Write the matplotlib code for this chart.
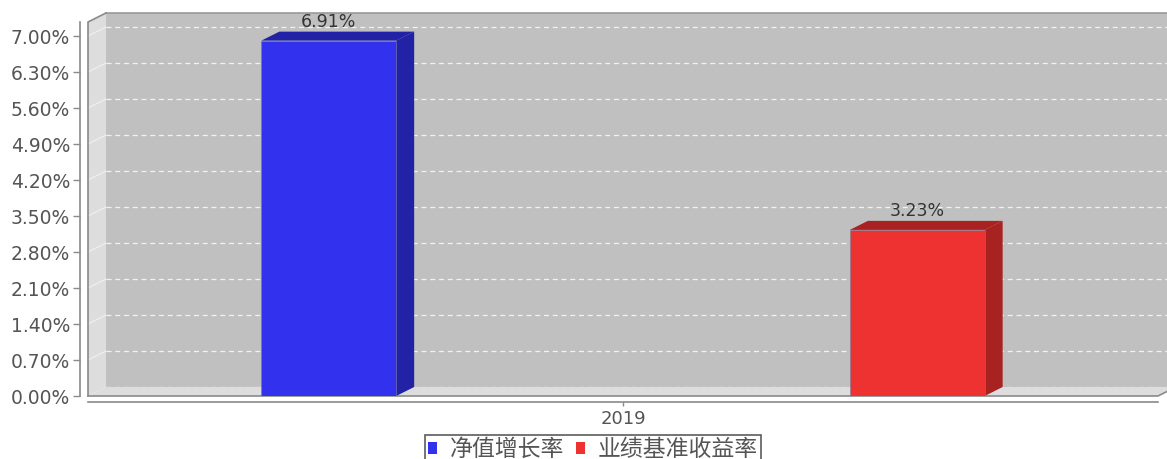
import numpy as np
import matplotlib
matplotlib.use('Agg')
import matplotlib.pyplot as plt
from matplotlib.patches import Polygon, Patch

plt.rcParams['font.family'] = ['Noto Sans CJK SC', 'DejaVu Sans']

# data
category = '2019'
series_names = ['净值增长率', '业绩基准收益率']
values = [6.91, 3.23]
bar_offsets = [-0.275, 0.275]
front_colors = ['#3232EE', '#EE3232']
side_colors = ['#2222A6', '#A82222']
yticks = [0.0, 0.7, 1.4, 2.1, 2.8, 3.5, 4.2, 4.9, 5.6, 6.3, 7.0]

W, H = 1167, 459
fig = plt.figure(figsize=(W / 100, H / 100), dpi=100)
# front plane of the 3d plot, in pixels: x 88..1158, y 22..396
ax = fig.add_axes([88 / W, 1 - 396 / H, 1070 / W, 374 / H])
ax.set_facecolor('none')

ytop = 374 / (360 / 7.0)
ax.set_xlim(-0.5, 0.5)
ax.set_ylim(0, ytop)

# depth of the 3d effect, 18px x 9px, in data units
DX = 18 / 1070
DY = 9 / (360 / 7.0)
x0, x1 = -0.5, 0.5
wall_edge = '#8a8a8a'

# back wall, floor, left wall
ax.add_patch(Polygon([(x0 + DX, DY), (x1 + 0.1, DY), (x1 + 0.1, ytop + DY), (x0 + DX, ytop + DY)],
                     closed=True, fc='#C0C0C0', ec='none', clip_on=False, zorder=0))
ax.plot([x0 + DX, x1 + 0.1], [ytop + DY, ytop + DY], color='#999999', lw=1.2, clip_on=False, zorder=0.5)
ax.add_patch(Polygon([(x0, 0), (x1, 0), (x1 + DX, DY), (x0 + DX, DY)],
                     closed=True, fc='#DDDDDD', ec='none', clip_on=False, zorder=1))
ax.add_patch(Polygon([(x0, 0), (x0, ytop), (x0 + DX, ytop + DY), (x0 + DX, DY)],
                     closed=True, fc='#DDDDDD', ec='none', clip_on=False, zorder=1))

# gridlines on back wall and left wall
for v in yticks:
    ax.plot([x0 + DX, x1 + 0.1], [v + DY, v + DY], color='white', lw=0.9,
            ls=(0, (4, 3)), alpha=0.8, clip_on=False, zorder=0.6)
    if v > 0:
        ax.plot([x0, x0 + DX], [v, v + DY], color='white', lw=0.8, alpha=0.6,
                clip_on=False, zorder=1.1)

# wall edges
ax.plot([x0, x0, x0 + DX], [0, ytop, ytop + DY], color=wall_edge, lw=1.2, clip_on=False, zorder=1.2)
ax.plot([x0, x1, x1 + DX], [0, 0, DY], color=wall_edge, lw=1.2, clip_on=False, zorder=1.2)

# bars with 3d faces
width = 0.126
for off, val, fc, sc in zip(bar_offsets, values, front_colors, side_colors):
    ax.bar(off, val, width=width, color=fc, edgecolor='#7a7a9a', linewidth=0.4, zorder=3)
    bl, br = off - width / 2, off + width / 2
    ax.add_patch(Polygon([(bl, val), (br, val), (br + DX, val + DY), (bl + DX, val + DY)],
                         closed=True, fc=sc, ec='none', clip_on=False, zorder=2.9))
    ax.add_patch(Polygon([(br, 0), (br, val), (br + DX, val + DY), (br + DX, DY)],
                         closed=True, fc=sc, ec='none', clip_on=False, zorder=2.9))
    ax.annotate(f'{val:.2f}%', (off, val), xytext=(0, 7), textcoords='offset points',
                ha='center', va='bottom', fontsize=12.5, color='#333333', family='DejaVu Sans')

# axes
for s in ['top', 'right']:
    ax.spines[s].set_visible(False)
ax.spines['left'].set_position(('outward', 6))
ax.spines['left'].set_bounds(0, ytop)
ax.spines['bottom'].set_position(('outward', 4))
ax.spines['left'].set_color('#8a8a8a')
ax.spines['bottom'].set_color('#8a8a8a')
ax.spines['left'].set_linewidth(1.2)
ax.spines['bottom'].set_linewidth(1.2)

ax.set_yticks(yticks)
ax.set_yticklabels([f'{v:.2f}%' for v in yticks], family='DejaVu Sans')
ax.tick_params(axis='y', length=5, width=1, color='#8a8a8a', labelsize=13.5,
               labelcolor='#555555', pad=2)
ax.set_xticks([0])
ax.set_xticklabels([category], family='DejaVu Sans')
ax.tick_params(axis='x', length=3, width=1, color='#8a8a8a', labelsize=13,
               labelcolor='#555555', pad=3)

handles = [Patch(facecolor=c, edgecolor='none') for c in front_colors]
leg = fig.legend(handles, series_names, loc='upper left', ncol=2,
                 bbox_to_anchor=(425 / W, 1 - 435 / H), fontsize=16.5,
                 frameon=True, fancybox=False, edgecolor='#333333',
                 handlelength=0.42, handleheight=0.42, handletextpad=0.55,
                 columnspacing=0.5, borderpad=0.12, borderaxespad=0)
leg.get_frame().set_linewidth(1.2)
for t in leg.get_texts():
    t.set_color('#555555')

fig.savefig('out.png', dpi=100)
